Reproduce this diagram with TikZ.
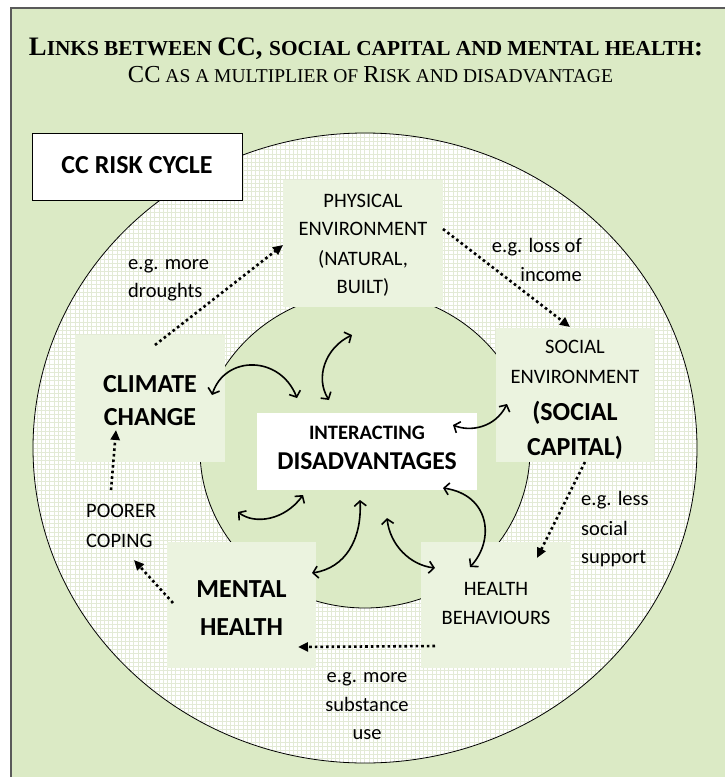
\documentclass[tikz,border=0pt]{standalone}
\usepackage{fontspec}
\setmainfont{Liberation Serif}
\newfontfamily\cali{Carlito}
\usetikzlibrary{arrows.meta}
\definecolor{framegreen}{HTML}{DBEAC5}
\definecolor{boxgreen}{HTML}{EBF3DF}
\definecolor{gridline}{HTML}{E3EAD6}
\definecolor{framegray}{HTML}{5A5A5A}
\newcommand\tsmall[1]{{\fontsize{20.8pt}{24pt}\selectfont #1}}
\newcommand\tsub[1]{{\fontsize{18.4pt}{22pt}\selectfont #1}}
\begin{document}
\begin{tikzpicture}[x=1pt,y=-1pt,
  boxst/.style={fill=boxgreen, draw=none, inner sep=0pt},
  reg/.style={font=\cali\fontsize{20.5pt}{24pt}\selectfont, anchor=base, inner sep=0pt},
  bld/.style={font=\cali\bfseries\fontsize{26pt}{30pt}\selectfont, anchor=base, inner sep=0pt},
  dotarrow/.style={line width=2.6pt, dash pattern=on 2.6pt off 3pt, -{Triangle[length=10pt,width=9pt]}},
  curvearrow/.style={line width=1.6pt, {Straight Barb[length=5pt,width=12pt]}-{Straight Barb[length=5pt,width=12pt]}}
]
\useasboundingbox (0,0) rectangle (724,777);
\fill[white] (0,0) rectangle (724,777);
% frame
\fill[framegreen] (10.5,7.5) rectangle (730,785);
\draw[framegray, line width=2pt] (10.5,790) -- (10.5,7.5) -- (730,7.5);
% ring with grid
\begin{scope}
\clip (365,448) ellipse [x radius=332pt, y radius=315pt];
\fill[white] (30,130) rectangle (700,766);
\foreach \i in {0,...,160} { \draw[gridline, line width=0.9pt] ({33+4.2*\i},130) -- ({33+4.2*\i},766); }
\foreach \j in {0,...,152} { \draw[gridline, line width=0.9pt] (30,{133+4.2*\j}) -- (700,{133+4.2*\j}); }
\end{scope}
\draw[line width=0.8pt] (365,448) ellipse [x radius=332pt, y radius=315pt];
\draw[line width=0.8pt, fill=framegreen] (365,450) ellipse [x radius=165pt, y radius=158pt];
% title
\node[anchor=base, inner sep=0pt] (title) at (366,55) {\resizebox{674pt}{!}{\bfseries\fontsize{26pt}{30pt}\selectfont L\tsmall{INKS BETWEEN }CC, \tsmall{SOCIAL CAPITAL AND MENTAL HEALTH}:}};
\node[anchor=base, inner sep=0pt] (subtitle) at (370.5,82) {\resizebox{485pt}{!}{\fontsize{23pt}{28pt}\selectfont CC\tsub{ AS A MULTIPLIER OF }R\tsub{ISK AND DISADVANTAGE}}};
% boxes
\node[draw=black, line width=0.8pt, fill=white, minimum width=210pt, minimum height=67pt, inner sep=0pt] (risk) at (137,166.5) {};
\node[boxst, minimum width=160pt, minimum height=127pt] (phy) at (363,243.5) {};
\node[boxst, minimum width=158pt, minimum height=134pt] (soc) at (575,395) {};
\node[boxst, minimum width=150pt, minimum height=127pt] (cc) at (150,398.5) {};
\node[fill=white, minimum width=220pt, minimum height=77pt, inner sep=0pt] (int) at (367,451.5) {};
\node[boxst, minimum width=149pt, minimum height=126pt] (mh) at (241.5,605) {};
\node[boxst, minimum width=150pt, minimum height=126pt] (hb) at (496,605) {};
% texts in boxes
\node[bld] (risktxt) at (137,173) {CC RISK CYCLE};
\node[reg] (phy1) at (363,207) {PHYSICAL};
\node[reg] (phy2) at (363,235) {ENVIRONMENT};
\node[reg] (phy3) at (363,265) {(NATURAL,};
\node[reg] (phy4) at (363,293) {BUILT)};
\node[reg] (soc1) at (575,353) {SOCIAL};
\node[reg] (soc2) at (575,383) {ENVIRONMENT};
\node[bld] (soc3) at (575,420) {(SOCIAL};
\node[bld] (soc4) at (575,455) {CAPITAL)};
\node[bld] (cc1) at (150,392) {CLIMATE};
\node[bld] (cc2) at (150,425) {CHANGE};
\node[anchor=base, inner sep=0pt, font=\cali\bfseries\fontsize{20.5pt}{24pt}\selectfont] (int1) at (367,439) {INTERACTING};
\node[anchor=base, inner sep=0pt, font=\cali\bfseries\fontsize{25.7pt}{30pt}\selectfont] (int2) at (367,469) {DISADVANTAGES};
\node[bld] (mh1) at (241.5,597) {MENTAL};
\node[bld] (mh2) at (241.5,635) {HEALTH};
\node[reg] (hb1) at (496,595) {HEALTH};
\node[reg] (hb2) at (496,624) {BEHAVIOURS};
\node[reg, anchor=base west] (poor1) at (86,517) {POORER};
\node[reg, anchor=base west] (poor2) at (86,547) {COPING};
% labels
\node[reg, anchor=base west] (l1a) at (128,269) {e.g. more};
\node[reg, anchor=base west] (l1b) at (128,297) {droughts};
\node[reg, anchor=base east] (l2a) at (582,252) {e.g. loss of};
\node[reg, anchor=base east] (l2b) at (582,281) {income};
\node[reg, anchor=base west] (l3a) at (581,505) {e.g. less};
\node[reg, anchor=base west] (l3b) at (581,535) {social};
\node[reg, anchor=base west] (l3c) at (581,563) {support};
\node[reg] (l4a) at (367,682) {e.g. more};
\node[reg] (l4b) at (367,711) {substance};
\node[reg] (l4c) at (367,739) {use};
% dotted arrows
\coordinate (d1s) at (155,345); \coordinate (d1e) at (283,245);
\coordinate (d2s) at (443,229); \coordinate (d2e) at (570,327);
\coordinate (d3s) at (585,462); \coordinate (d3e) at (537,558);
\coordinate (d4s) at (435,646); \coordinate (d4e) at (298,647);
\coordinate (d5s) at (173,603); \coordinate (d5e) at (134,560);
\coordinate (d6s) at (111,490); \coordinate (d6e) at (116,430);
\draw[dotarrow] (d1s) -- (d1e);
\draw[dotarrow] (d2s) -- (d2e);
\draw[dotarrow] (d3s) -- (d3e);
\draw[dotarrow] (d4s) -- (d4e);
\draw[dotarrow] (d5s) -- (d5e);
\draw[dotarrow] (d6s) -- (d6e);
% curved arrows
\coordinate (ca1) at (212,395); \coordinate (ca2) at (297,398);
\coordinate (cb1) at (352,335); \coordinate (cb2) at (329,400);
\coordinate (cc1p) at (453,425); \coordinate (cc2p) at (507,404);
\coordinate (cd1) at (443,488); \coordinate (cd2) at (470,567);
\coordinate (ce1) at (387,518); \coordinate (ce2) at (435,568);
\coordinate (cf1) at (312,573); \coordinate (cf2) at (360,500);
\coordinate (cg1) at (238,512); \coordinate (cg2) at (303,495);
\draw[curvearrow] (ca1) .. controls (225,355) and (280,355) .. (ca2);
\draw[curvearrow] (cb1) .. controls (325,348) and (315,378) .. (cb2);
\draw[curvearrow] (cc1p) .. controls (470,432) and (495,428) .. (cc2p);
\draw[curvearrow] (cd1) .. controls (490,495) and (495,540) .. (cd2);
\draw[curvearrow] (ce1) .. controls (390,545) and (410,565) .. (ce2);
\draw[curvearrow] (cf1) .. controls (345,568) and (362,540) .. (cf2);
\draw[curvearrow] (cg1) .. controls (255,525) and (285,520) .. (cg2);
\end{tikzpicture}
\end{document}
